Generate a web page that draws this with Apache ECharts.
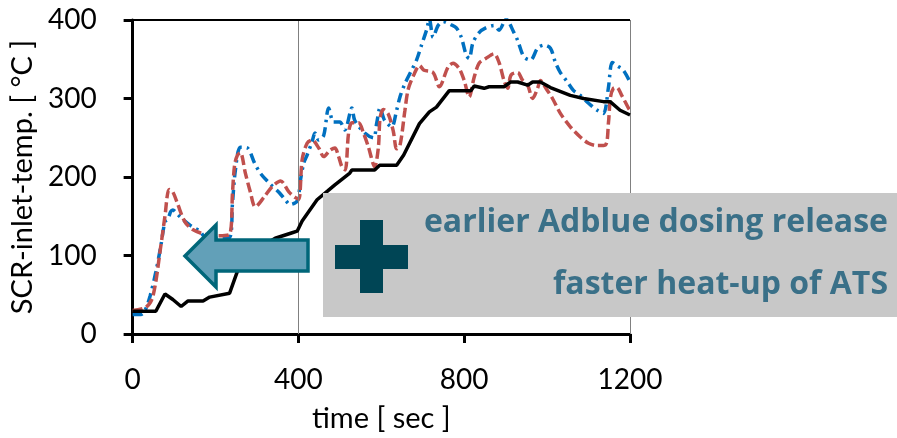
<!DOCTYPE html>
<html>
<head>
<meta charset="utf-8">
<script src="https://cdn.jsdelivr.net/npm/echarts@6/dist/echarts.min.js"></script>
<style>
  html, body { margin: 0; padding: 0; background: #fff; }
  #chart { width: 897px; height: 438px; }
</style>
</head>
<body>
<div id="chart"></div>
<script>
// Time axis ticks [sec] and temperature axis ticks [°C]
const timeTicks = [0, 400, 800, 1200];
const tempTicks = [0, 100, 200, 300, 400];

// Baseline SCR inlet temperature (solid black)
const baseTime = [0, 56, 78, 97, 117, 133, 170, 186, 234, 253, 300, 344, 385, 397, 409, 445, 470, 488, 524, 529, 584, 596, 637, 654, 692, 716, 733, 764, 816, 824, 848, 860, 896, 912, 929, 953, 965, 984, 1008, 1056, 1088, 1136, 1152, 1176, 1200];
const baseTemp = [29, 29, 51, 44, 35, 42, 42, 47, 52, 80, 108, 122, 129, 131, 144, 171, 182, 190, 205, 209, 209, 215, 215, 228, 268, 283, 289, 310, 310, 316, 313, 315, 315, 321, 321, 317, 321, 321, 314, 304, 300, 296, 296, 285, 279];

// Variant A (red dashed)
const varATime = [0, 32, 49, 68, 78, 88, 97, 109, 126, 145, 174, 205, 234, 241, 246, 253, 260, 272, 284, 296, 318, 337, 357, 377, 392, 401, 409, 421, 433, 449, 461, 476, 488, 497, 505, 513, 521, 529, 545, 557, 569, 584, 593, 597, 605, 617, 629, 637, 645, 657, 665, 680, 692, 703, 725, 740, 761, 773, 788, 800, 812, 824, 836, 852, 872, 884, 896, 905, 913, 929, 941, 953, 965, 977, 984, 996, 1013, 1032, 1056, 1080, 1100, 1121, 1141, 1148, 1153, 1160, 1168, 1180, 1196, 1200];
const varATemp = [30, 34, 48, 112, 150, 184, 181, 165, 143, 133, 127, 125, 127, 180, 215, 228, 231, 205, 181, 162, 175, 188, 195, 181, 174, 172, 222, 243, 247, 237, 226, 234, 237, 226, 213, 209, 256, 269, 269, 256, 238, 213, 238, 275, 286, 280, 258, 236, 240, 285, 312, 332, 342, 336, 333, 315, 340, 345, 338, 323, 302, 327, 345, 351, 357, 346, 323, 313, 330, 333, 323, 317, 300, 313, 323, 314, 300, 281, 264, 251, 243, 240, 241, 269, 302, 313, 314, 304, 288, 285];

// Variant B (blue dash-dot)
const varBTime = [0, 20, 30, 42, 56, 68, 78, 85, 92, 97, 109, 121, 140, 162, 174, 205, 234, 241, 248, 260, 277, 294, 308, 330, 354, 368, 380, 398, 404, 413, 421, 433, 440, 449, 461, 473, 485, 500, 512, 529, 536, 560, 581, 589, 597, 608, 625, 637, 645, 657, 673, 685, 697, 709, 716, 725, 737, 749, 768, 781, 793, 805, 812, 821, 836, 852, 872, 884, 901, 920, 929, 944, 960, 977, 992, 1008, 1020, 1032, 1049, 1064, 1080, 1100, 1121, 1136, 1148, 1157, 1168, 1184, 1200];
const varBTemp = [25, 25, 30, 48, 79, 112, 143, 146, 156, 158, 152, 146, 138, 131, 124, 122, 123, 167, 209, 238, 237, 218, 205, 192, 180, 171, 165, 170, 193, 218, 228, 245, 256, 247, 253, 288, 270, 270, 260, 288, 272, 256, 250, 269, 288, 272, 264, 285, 302, 319, 336, 349, 368, 387, 401, 378, 393, 398, 394, 390, 378, 355, 351, 371, 384, 390, 393, 387, 401, 384, 374, 353, 349, 364, 368, 364, 346, 333, 321, 310, 304, 294, 285, 281, 314, 346, 342, 336, 321];

const pairs = (xs, ys) => xs.map((x, i) => [x, ys[i]]);

const chart = echarts.init(document.getElementById('chart'), null, { renderer: 'canvas' });

const FONT = 'Lato, "Open Sans", sans-serif';
const NOTE_FONT = '"Open Sans", "Noto Sans", sans-serif';

chart.setOption({
  animation: false,
  backgroundColor: '#ffffff',
  grid: { left: 130, top: 20, width: 500, height: 315, containLabel: false },
  xAxis: {
    type: 'value',
    min: timeTicks[0], max: timeTicks[timeTicks.length - 1], interval: timeTicks[1] - timeTicks[0],
    name: 'time [ sec ]',
    nameLocation: 'middle',
    nameGap: 70,
    nameTextStyle: { fontFamily: FONT, fontSize: 29, color: '#000' },
    axisLine: { show: true, lineStyle: { color: '#000', width: 3 } },
    axisTick: { show: true, length: 9, lineStyle: { color: '#000', width: 3 } },
    axisLabel: { fontFamily: FONT, fontSize: 28, color: '#000', margin: 32, showMaxLabel: true,
                 formatter: v => String(v) },
    splitLine: { show: false }
  },
  yAxis: {
    type: 'value',
    min: tempTicks[0], max: tempTicks[tempTicks.length - 1], interval: tempTicks[1] - tempTicks[0],
    name: 'SCR-inlet-temp. [ °C ]',
    nameLocation: 'middle',
    nameGap: 89,
    nameTextStyle: { fontFamily: FONT, fontSize: 29, color: '#000' },
    axisLine: { show: true, lineStyle: { color: '#000', width: 3 } },
    axisTick: { show: true, length: 9, lineStyle: { color: '#000', width: 3 } },
    axisLabel: { fontFamily: FONT, fontSize: 28, color: '#000', margin: 36,
                 formatter: v => String(v) },
    splitLine: { show: false }
  },
  series: [
    {
      name: 'variant B',
      type: 'line',
      data: pairs(varBTime, varBTemp),
      showSymbol: false,
      smooth: 0.3,
      lineStyle: { color: '#0070c0', width: 3.5, type: [10, 5, 2.5, 5] },
      z: 3
    },
    {
      name: 'variant A',
      type: 'line',
      data: pairs(varATime, varATemp),
      showSymbol: false,
      smooth: 0.3,
      lineStyle: { color: '#c0504d', width: 3.5, type: [10, 4] },
      z: 4
    },
    {
      name: 'baseline',
      type: 'line',
      data: pairs(baseTime, baseTemp),
      showSymbol: false,
      lineStyle: { color: '#000', width: 3.5 },
      z: 5,
      markLine: {
        silent: true,
        symbol: 'none',
        label: { show: false },
        data: [
          { xAxis: 400, lineStyle: { color: '#808080', width: 1, type: 'solid' } },
          { xAxis: 1200, lineStyle: { color: '#808080', width: 1, type: 'solid' } },
          { yAxis: 400, lineStyle: { color: '#000', width: 2, type: 'solid' } }
        ]
      }
    }
  ],
  graphic: [
    // arrow pointing towards earlier times
    {
      type: 'polygon', z: 100,
      shape: { points: [[185, 256], [216, 225], [216, 240], [308, 240], [308, 271], [216, 271], [216, 287]] },
      style: { fill: '#62a0b8', stroke: '#006679', lineWidth: 3.5 }
    },
    // grey panel
    {
      type: 'rect', z: 100,
      shape: { x: 323, y: 193, width: 574, height: 124 },
      style: { fill: '#c8c8c8' }
    },
    // plus sign
    {
      type: 'polygon', z: 101,
      shape: { points: [[360, 220], [383, 220], [383, 245], [408, 245], [408, 269], [383, 269], [383, 293], [360, 293], [360, 269], [335, 269], [335, 245], [360, 245]] },
      style: { fill: '#004555' }
    },
    {
      type: 'text', z: 101,
      style: {
        x: 888, y: 223, text: 'earlier Adblue dosing release',
        fontFamily: NOTE_FONT, fontWeight: 'bold', fontSize: 32,
        fill: '#3a7088', align: 'right', verticalAlign: 'middle'
      }
    },
    {
      type: 'text', z: 101,
      style: {
        x: 888, y: 285, text: 'faster heat-up of ATS',
        fontFamily: NOTE_FONT, fontWeight: 'bold', fontSize: 32,
        fill: '#3a7088', align: 'right', verticalAlign: 'middle'
      }
    }
  ]
});
</script>
</body>
</html>
